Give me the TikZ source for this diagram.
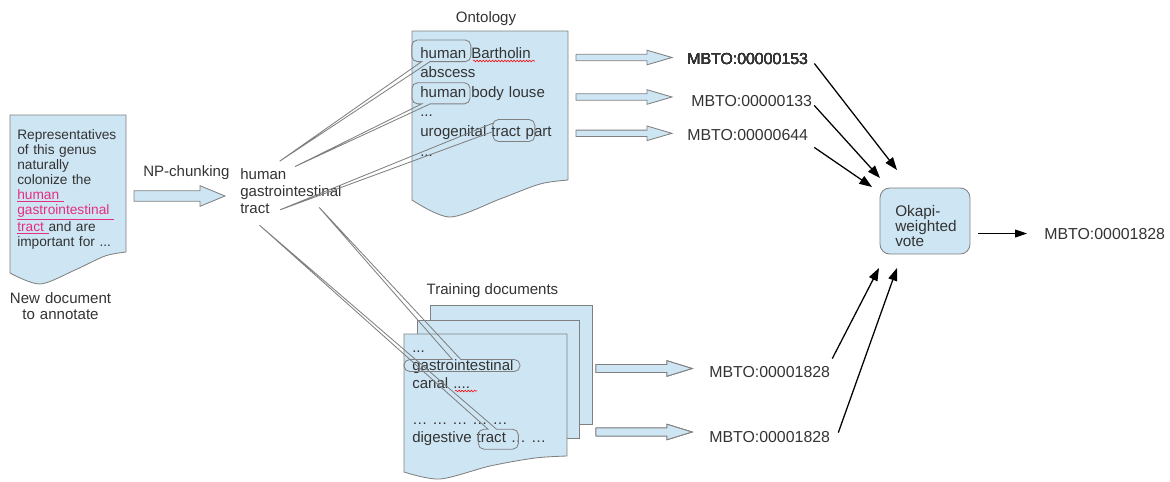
\documentclass[tikz,border=0pt]{standalone}
\usepackage{fontspec}
\setmainfont{Liberation Sans}
\usetikzlibrary{arrows.meta, shapes.callouts, decorations.pathmorphing}

\definecolor{docblue}{RGB}{206,230,244}
\definecolor{edgegray}{RGB}{128,128,128}
\definecolor{textgray}{RGB}{51,51,51}
\definecolor{linkpink}{RGB}{229,45,129}

\tikzset{
  docpage/.style = {fill=docblue, draw=edgegray, line width=0.6pt},
  blockarr/.style = {fill=docblue, draw=edgegray, line width=0.6pt},
  lbl/.style = {inner sep=0pt, anchor=base west, text=textgray, font=\fontsize{10.7}{12.8}\selectfont},
  mbto/.style = {lbl, font=\fontsize{11.3}{13}\selectfont},
  bubble/.style = {rectangle callout, draw=edgegray, line width=0.6pt, rounded corners=4pt, inner sep=0pt, callout pointer width=6pt},
  okapibox/.style = {fill=docblue, draw=edgegray, line width=0.6pt, rounded corners=7pt, minimum width=64pt, minimum height=47pt, inner sep=0pt},
  vote/.style = {-{Triangle[length=9pt,width=6.5pt]}, line width=0.9pt},
  typo/.style = {red, line width=0.4pt, decorate, decoration={snake, amplitude=0.6pt, segment length=2.2pt}}
}

\newcommand{\pinku}[1]{\textcolor{linkpink}{\underline{#1}}}
% left x, head x, tip x, mid y, half shaft, half head
\newcommand{\blockarrow}[6]{%
  \draw[blockarr] (#1,#4-#5) -- (#2,#4-#5) -- (#2,#4-#6) -- (#3,#4) -- (#2,#4+#6) -- (#2,#4+#5) -- (#1,#4+#5) -- cycle;}

\begin{document}
\begin{tikzpicture}[x=0.025cm, y=-0.025cm]
	\useasboundingbox (0,0) rectangle (1170,481);

	% document to annotate
	\draw[docpage] (126,115) -- (10,115) -- plot [smooth] coordinates { (10,273) (40,284) (75,270) (105,256) (126,252) } -- cycle;
	\node[lbl, text width=80pt, align=left, font=\fontsize{9.75}{10.74}\selectfont] (newtxt) at (17,139)
		{Representatives\\ of this genus\\ naturally\\ colonize the\\ \pinku{human\ }\\ \pinku{gastrointestinal\ }\\ \pinku{tract\ }and are\\ important for ...};
	\node[lbl, anchor=base, text width=100pt, align=center, font=\fontsize{10.7}{11.4}\selectfont] (newlbl) at (60.5,303) {New document\\ to annotate};

	% chunking
	\blockarrow{134}{200}{225}{196}{5.2}{10.3}
	\node[lbl] (npl) at (143,176) {NP-chunking};
	\node[lbl, text width=80pt, align=left, font=\fontsize{10.7}{12.09}\selectfont] (query) at (240,179) {human\\ gastrointestinal\\ tract};

	% ontology
	\draw[docpage] (568,31) -- (412,31) -- plot [smooth] coordinates { (412,200) (450,217) (500,199) (540,184) (568,180) } -- cycle;
	\node[lbl, anchor=base] (ontlbl) at (486,22) {Ontology};
	\node[lbl, text width=105pt, align=left, font=\fontsize{10.7}{13.94}\selectfont] (onttxt) at (420,58)
		{human Bartholin\\ abscess\\ human body louse\\ ...\\ urogenital tract part\\ ...};
	\draw[typo] (473,61) -- (535,61);

	% training documents
	\draw[docpage] (430,305) rectangle (592,424);
	\draw[docpage] (417,320) rectangle (579,438);
	\draw[docpage] (567,334) -- (404,334) -- plot [smooth] coordinates { (404,472) (440,479) (490,466) (535,458) (567,456) } -- cycle;
	\node[lbl, anchor=base] (trlbl) at (492.5,294) {Training documents};
	\node[lbl, text width=110pt, align=left] (trtxt) at (412,352)
		{...\\ gastrointestinal\\ canal ....\\[12.8pt] … … … … …\\ digestive tract … …};
	\draw[typo] (455,391) -- (477,391);

	% candidate concepts
	\foreach \y in {57.5, 97, 133.3}
		\blockarrow{576}{647}{672}{\y}{3.2}{7.3}
	\foreach \y in {368.5, 432}
		\blockarrow{596}{667}{692}{\y}{4}{7.7}
	\node[mbto] (m153) at (687,64) {MBTO:00000153};
	\node[mbto] (m133) at (691,106) {MBTO:00000133};
	\node[mbto] (m644) at (687,140) {MBTO:00000644};
	\node[mbto] (t1828a) at (709,377) {MBTO:00001828};
	\node[mbto] (t1828b) at (709,442) {MBTO:00001828};

	% vote
	\node[okapibox] (vote) at (925,221) {};
	\node[lbl, text width=50pt, align=left, font=\fontsize{10.9}{10.67}\selectfont] (votetxt) at (895,216) {Okapi-\\ weighted\\ vote};
	\node[mbto] (out) at (1044,239) {MBTO:00001828};
	\coordinate (v1) at (897,170);
	\coordinate (v2) at (880,178);
	\coordinate (v3) at (872,187);
	\coordinate (v4) at (879,268);
	\coordinate (v5) at (897,268);
	\draw[vote] ([xshift=4.3pt, yshift=-3.5pt]m153.east) -- (v1);
	\draw[vote] ([xshift=1.4pt, yshift=-3.5pt]m133.east) -- (v2);
	\draw[vote] ([xshift=4.3pt, yshift=-5pt]m644.south east) -- (v3);
	\draw[vote] ([xshift=1.4pt, yshift=5pt]t1828a.north east) -- (v4);
	\draw[vote] ([xshift=5.7pt, yshift=2.8pt]t1828b.east) -- (v5);
	\draw[-{Triangle[length=8.5pt,width=5.5pt]}, line width=0.7pt, shorten <=5.7pt, shorten >=12pt] (vote.east |- out.west) -- (out.west);

	% matches
	\coordinate (p1) at (277,163);
	\coordinate (p2) at (292,168);
	\coordinate (p3) at (277,211);
	\coordinate (p4) at (317,205);
	\coordinate (p5) at (257,223);
	\node[bubble, minimum width=42pt, minimum height=15.4pt, callout absolute pointer={(p1)}] (cb1) at (441.3,50.8) {};
	\node[bubble, minimum width=41.3pt, minimum height=15pt, callout absolute pointer={(p2)}] (cb2) at (441,93.3) {};
	\node[bubble, minimum width=29.9pt, minimum height=15.6pt, callout absolute pointer={(p3)}] (cb3) at (513.8,130.5) {};
	\node[bubble, minimum width=82.5pt, minimum height=8.5pt, callout absolute pointer={(p4)}] (cb4) at (462,365.5) {};
	\node[bubble, minimum width=28.5pt, minimum height=14.2pt, callout absolute pointer={(p5)}] (cb5) at (498.3,439.2) {};
\end{tikzpicture}
\end{document}
